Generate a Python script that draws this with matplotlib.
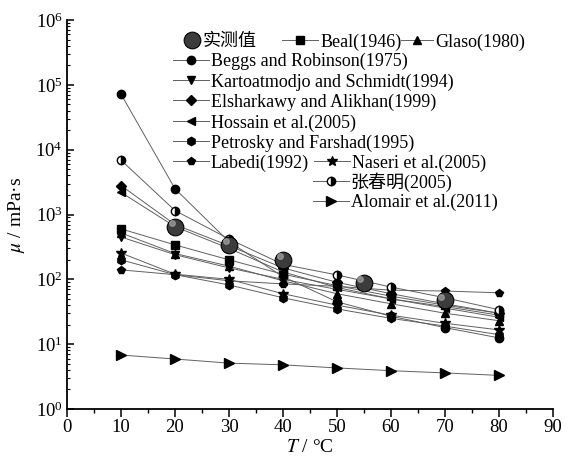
import matplotlib
matplotlib.use("Agg")
import matplotlib.pyplot as plt
from matplotlib import transforms
from matplotlib.ticker import LogLocator, MultipleLocator, LogFormatterMathtext

plt.rcParams["font.family"] = ["Liberation Serif", "Noto Sans CJK SC"]
plt.rcParams["mathtext.fontset"] = "stix"

temps = [10, 20, 30, 40, 50, 60, 70, 80]

meas_t = [20, 30, 40, 55, 70]
meas_mu = [645, 340, 199, 88, 48]

beal = [600, 340, 200, 120, 80, 55, 40, 30]
glaso = [520, 250, 160, 95, 60, 42, 30, 23]
beggs = [72000, 2500, 380, 110, 45, 27, 18, 12.5]
kartoatmodjo = [450, 240, 150, 100, 70, 50, 38, 28]
elsharkawy = [2800, 700, 330, 150, 90, 60, 42, 30]
hossain = [2200, 650, 300, 130, 75, 50, 36, 26]
petrosky = [200, 118, 82, 52, 35, 25, 19, 14]
labedi = [140, 118, 95, 85, 78, 68, 66, 62]
naseri = [255, 120, 100, 60, 40, 28, 21, 16.6]
zhang = [6900, 1150, 420, 170, 117, 76, 52, 34]
alomair = [6.8, 5.9, 5.1, 4.8, 4.3, 3.9, 3.6, 3.3]

fig = plt.figure(figsize=(5.76, 4.61), dpi=100)
ax = fig.add_axes([0.1163, 0.1128, 0.8437, 0.8438])


def style(ms=6):
    return dict(color="#606060", lw=0.7, markerfacecolor="black",
                markeredgecolor="black", ms=ms)


h_meas, = ax.plot(meas_t, meas_mu, "o", ms=12, markerfacecolor="#3c3c3c",
                  markeredgecolor="black", markeredgewidth=0.8, zorder=5)
# soft highlight on the measured balls
shine = transforms.offset_copy(ax.transData, fig=fig, x=-2.5, y=2.5, units="points")
ax.plot(meas_t, meas_mu, "o", ms=4, color="#9a9a9a", alpha=0.8,
        transform=shine, zorder=6)

h_beal, = ax.plot(temps, beal, marker="s", **style(5.5))
h_glaso, = ax.plot(temps, glaso, marker="^", **style())
h_beggs, = ax.plot(temps, beggs, marker="o", **style())
h_kart, = ax.plot(temps, kartoatmodjo, marker="v", **style())
h_elsh, = ax.plot(temps, elsharkawy, marker="D", **style(5))
h_hoss, = ax.plot(temps, hossain, marker="<", **style())
h_petr, = ax.plot(temps, petrosky, marker="h", **style())
h_labe, = ax.plot(temps, labedi, marker="p", **style())
h_nase, = ax.plot(temps, naseri, marker="*", **style(7))
h_zhang, = ax.plot(temps, zhang, marker="o", fillstyle="right",
                   markerfacecoloralt="white", **style())
h_alom, = ax.plot(temps, alomair, marker=">", **style(7))

ax.set_yscale("log")
ax.set_xlim(0, 90)
ax.set_ylim(1, 1e6)
ax.xaxis.set_major_locator(MultipleLocator(10))
ax.xaxis.set_minor_locator(MultipleLocator(5))
ax.yaxis.set_major_locator(LogLocator(base=10, numticks=10))
ax.yaxis.set_minor_locator(LogLocator(base=10, subs=range(2, 10), numticks=20))
ax.yaxis.set_major_formatter(LogFormatterMathtext())
ax.spines["top"].set_visible(False)
ax.spines["right"].set_visible(False)
for s in ("left", "bottom"):
    ax.spines[s].set_linewidth(1.3)
ax.tick_params(axis="x", which="major", direction="out", length=6, width=1.1, labelsize=13.5, pad=1)
ax.tick_params(axis="x", which="minor", direction="out", length=3, width=1.0)
ax.tick_params(axis="y", which="major", direction="in", length=5, width=1.1, labelsize=13.5, pad=3)
ax.tick_params(axis="y", which="minor", direction="in", length=2.5, width=0.8)

ax.set_xlabel(r"$T$ / °C", fontsize=14, labelpad=2.5)
ax.set_ylabel(r"$\mu$ / mPa·s", fontsize=14, labelpad=6)

# legend rows, placed like the original
leg_kw = dict(frameon=False, fontsize=13, handletextpad=0.1, borderaxespad=0,
              borderpad=0, columnspacing=0.3, loc="center left")
rows = [
    ([h_meas], ["实测值"], (0.318, 0.909), 1.0),
    ([h_beal], ["Beal(1946)"], (0.490, 0.909), 2.0),
    ([h_glaso], ["Glaso(1980)"], (0.696, 0.909), 1.8),
    ([h_beggs], ["Beggs and Robinson(1975)"], (0.300, 0.866), 2.0),
    ([h_kart], ["Kartoatmodjo and Schmidt(1994)"], (0.300, 0.822), 2.0),
    ([h_elsh], ["Elsharkawy and Alikhan(1999)"], (0.300, 0.779), 2.0),
    ([h_hoss], ["Hossain et al.(2005)"], (0.300, 0.733), 2.0),
    ([h_petr], ["Petrosky and Farshad(1995)"], (0.300, 0.690), 2.0),
    ([h_labe, h_nase], ["Labedi(1992)", "Naseri et al.(2005)"], (0.300, 0.646), 2.0),
    ([h_zhang], ["张春明(2005)"], (0.543, 0.605), 2.0),
    ([h_alom], ["Alomair et al.(2011)"], (0.543, 0.560), 2.0),
]
for handles, labels, anchor, hl in rows:
    fig.legend(handles, labels, ncol=len(handles), bbox_to_anchor=anchor,
               handlelength=hl, **leg_kw)

fig.savefig("out.png", dpi=100)
